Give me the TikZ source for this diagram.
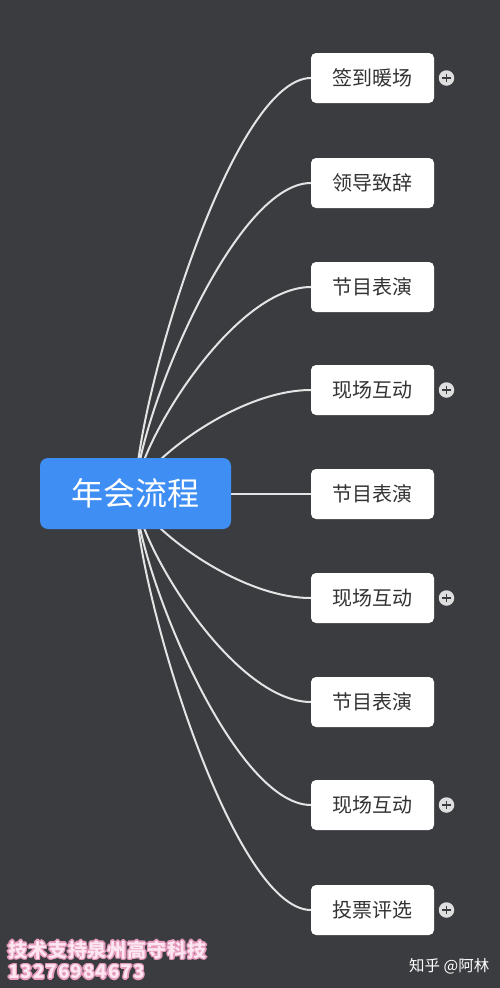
\documentclass[tikz,border=0pt]{standalone}
\usepackage{fontspec}
\setmainfont{Noto Sans CJK SC}
\newfontfamily\wmfont[LetterSpace=5]{Noto Sans CJK SC}
\usetikzlibrary{calc}
\definecolor{bg}{HTML}{3A3C3F}
\definecolor{rootblue}{HTML}{3F8EF3}
\definecolor{linkc}{HTML}{E4E4E4}
\definecolor{plusbg}{HTML}{DEDEDE}
\definecolor{childtext}{HTML}{333333}
\definecolor{wmpink}{HTML}{E79BBE}
\definecolor{wmlight}{HTML}{FCE6F0}
\begin{document}
\begin{tikzpicture}[x=1pt,y=-1pt,
  rootbox/.style={fill=rootblue, rounded corners=8pt, minimum width=191pt, minimum height=71pt, text=white, font=\fontsize{32}{36}\selectfont, inner sep=0pt},
  childbox/.style={fill=white, rounded corners=5pt, minimum width=123pt, minimum height=50pt, text=childtext, font=\fontsize{20}{22}\selectfont, inner sep=0pt},
  link/.style={draw=linkc, line width=2pt},
  plusc/.style={circle, fill=plusbg, minimum size=15.5pt, inner sep=0pt},
  plusline/.style={draw=bg, line width=1.8pt},
  wmtext/.style={anchor=west, inner sep=0pt, font=\wmfont\bfseries\fontsize{19}{22}\selectfont},
  credit/.style={anchor=west, inner sep=0pt, text=white, font=\fontsize{15.5}{18}\selectfont}
]
\useasboundingbox (0,0) rectangle (500,988);
\fill[bg] (0,0) rectangle (500,988);

% connectors first (behind nodes)
\coordinate (rc) at (135.5,494);
\foreach \i/\y in {1/78,2/183,3/287,4/390,5/494,6/598,7/702,8/805,9/910} {
  \coordinate (w\i) at (311,\y);
}
\foreach \i in {1,2,3,4,6,7,8,9} {
  \path ($(rc)!0.22!(w\i)$) coordinate (a\i);
  \path ($(rc)!0.55!(w\i)$) coordinate (b\i);
  \draw[link] (rc) .. controls (rc |- a\i) and (b\i |- w\i) .. (w\i);
}
\draw[link] (rc) -- (w5);

% root
\node[rootbox] (root) at (135.5,493.5) {年会流程};

% children
\node[childbox] (c1) at (372.5,78) {签到暖场};
\node[childbox] (c2) at (372.5,183) {领导致辞};
\node[childbox] (c3) at (372.5,287) {节目表演};
\node[childbox] (c4) at (372.5,390) {现场互动};
\node[childbox] (c5) at (372.5,494) {节目表演};
\node[childbox] (c6) at (372.5,598) {现场互动};
\node[childbox] (c7) at (372.5,702) {节目表演};
\node[childbox] (c8) at (372.5,805) {现场互动};
\node[childbox] (c9) at (372.5,910) {投票评选};

% plus markers
\foreach \i/\y in {1/78,4/390,6/598,8/805,9/910} {
  \node[plusc] (p\i) at (446.5,\y) {};
  \draw[plusline] ($(p\i.center)+(-4.2,0)$) -- ($(p\i.center)+(4.2,0)$);
  \draw[plusline] ($(p\i.center)+(0,-4.2)$) -- ($(p\i.center)+(0,4.2)$);
}

% watermark with glow
\foreach \dx/\dy in {-1.4/0,1.4/0,0/-1.4,0/1.4,-1/-1,1/1,-1/1,1/-1} {
  \node[wmtext, text=wmpink] (g1) at (8+\dx,950+\dy) {技术支持泉州高守科技};
  \node[wmtext, text=wmpink] (g2) at (8+\dx,972+\dy) {13276984673};
}
\node[wmtext, text=wmlight] (wm1) at (8,950) {技术支持泉州高守科技};
\node[wmtext, text=wmlight] (wm2) at (8,972) {13276984673};

\node[credit] (cr) at (409,966) {知乎 @阿林};
\end{tikzpicture}
\end{document}
